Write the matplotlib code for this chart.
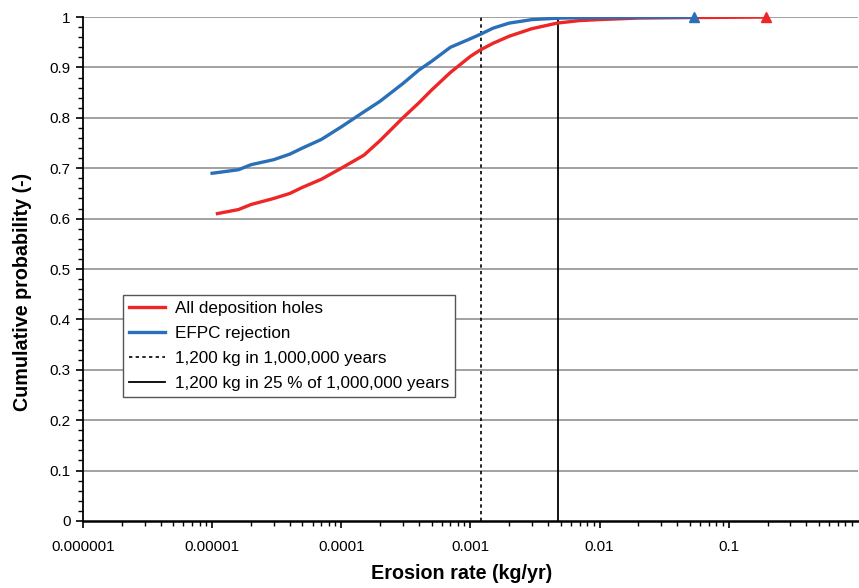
import matplotlib
matplotlib.use('Agg')
import matplotlib.pyplot as plt
from matplotlib.ticker import LogLocator, MultipleLocator, FixedFormatter, FixedLocator

plt.rcParams['font.family'] = ['Liberation Sans', 'DejaVu Sans']

# erosion rate (kg/yr) and cumulative probability
all_holes_x = [1.1e-5, 1.6e-5, 2e-5, 3e-5, 4e-5, 5e-5, 7e-5, 1e-4, 1.5e-4, 2e-4,
               3e-4, 4e-4, 5e-4, 7e-4, 1e-3, 1.2e-3, 1.5e-3, 2e-3, 3e-3, 4.7e-3,
               7e-3, 1e-2, 2e-2, 5e-2, 0.195]
all_holes_y = [0.610, 0.618, 0.628, 0.640, 0.650, 0.662, 0.678, 0.700, 0.726, 0.755,
               0.800, 0.830, 0.855, 0.890, 0.922, 0.935, 0.948, 0.962, 0.977, 0.988,
               0.993, 0.995, 0.998, 0.999, 1.000]

efpc_x = [1e-5, 1.6e-5, 2e-5, 3e-5, 4e-5, 5e-5, 7e-5, 1e-4, 1.5e-4, 2e-4,
          3e-4, 4e-4, 5e-4, 7e-4, 1e-3, 1.2e-3, 1.5e-3, 2e-3, 3e-3, 5e-3,
          1e-2, 0.054]
efpc_y = [0.690, 0.697, 0.707, 0.717, 0.728, 0.740, 0.757, 0.782, 0.812, 0.833,
          0.868, 0.895, 0.912, 0.940, 0.957, 0.966, 0.978, 0.988, 0.995, 0.998,
          0.999, 1.000]

limit_full = 0.0012      # 1,200 kg in 1,000,000 years
limit_quarter = 0.0048   # 1,200 kg in 25 % of 1,000,000 years

x_ticks = [1e-6, 1e-5, 1e-4, 1e-3, 1e-2, 1e-1]
x_tick_labels = ['0.000001', '0.00001', '0.0001', '0.001', '0.01', '0.1']
y_ticks = [0, 0.1, 0.2, 0.3, 0.4, 0.5, 0.6, 0.7, 0.8, 0.9, 1]
y_tick_labels = ['0', '0.1', '0.2', '0.3', '0.4', '0.5', '0.6', '0.7', '0.8', '0.9', '1']

red = '#EE2626'
blue = '#2A6FB8'

fig = plt.figure(figsize=(8.59, 5.88), dpi=100)
ax = fig.add_axes([0.0966, 0.114, 0.902, 0.857])

ax.set_xscale('log')
ax.set_xlim(1e-6, 1)
ax.set_ylim(0, 1)

for yv in y_ticks[1:]:
    ax.axhline(yv, color='#9a9a9a', linewidth=1.3, zorder=1)

ax.plot(all_holes_x, all_holes_y, color=red, linewidth=2.4, zorder=3,
        label='All deposition holes')
ax.plot(efpc_x, efpc_y, color=blue, linewidth=2.4, zorder=4,
        label='EFPC rejection')
ax.plot(all_holes_x[-1], all_holes_y[-1], marker='^', color=red, markersize=7,
        zorder=5, clip_on=False)
ax.plot(efpc_x[-1], efpc_y[-1], marker='^', color=blue, markersize=7,
        zorder=5, clip_on=False)

ax.axvline(limit_full, color='black', linestyle=(0, (2, 2)), linewidth=1.2,
           zorder=2, label='1,200 kg in 1,000,000 years')
ax.axvline(limit_quarter, color='black', linewidth=1.3, zorder=2,
           label='1,200 kg in 25 % of 1,000,000 years')

ax.xaxis.set_major_locator(FixedLocator(x_ticks))
ax.xaxis.set_major_formatter(FixedFormatter(x_tick_labels))
ax.xaxis.set_minor_locator(LogLocator(base=10, subs=range(2, 10), numticks=20))
ax.yaxis.set_major_locator(FixedLocator(y_ticks))
ax.yaxis.set_major_formatter(FixedFormatter(y_tick_labels))
ax.yaxis.set_minor_locator(MultipleLocator(0.02))
ax.xaxis.set_minor_formatter(plt.NullFormatter())

ax.tick_params(axis='both', which='major', direction='out', length=5, width=1.2,
               labelsize=11, colors='black')
ax.tick_params(axis='both', which='minor', direction='out', length=3.5, width=1.0)
ax.tick_params(axis='x', which='major', pad=9)
ax.tick_params(axis='y', which='major', pad=4)

for side in ['top', 'right']:
    ax.spines[side].set_visible(False)
ax.spines['left'].set_linewidth(1.3)
ax.spines['bottom'].set_linewidth(1.8)

ax.set_xlabel('Erosion rate (kg/yr)', fontsize=14.2, fontweight='bold')
ax.set_ylabel('Cumulative probability (-)', fontsize=14.2, fontweight='bold')
ax.xaxis.set_label_coords(0.489, -0.085)
ax.yaxis.set_label_coords(-0.066, 0.454)

leg = ax.legend(loc='lower left', bbox_to_anchor=(0.052, 0.246), fontsize=12.3,
                frameon=True, fancybox=False, framealpha=1, edgecolor='#555555',
                handlelength=2.1, labelspacing=0.58, borderpad=0.35,
                handletextpad=0.55, borderaxespad=0)
leg.get_frame().set_linewidth(1.0)

fig.savefig('out.png', dpi=100)
